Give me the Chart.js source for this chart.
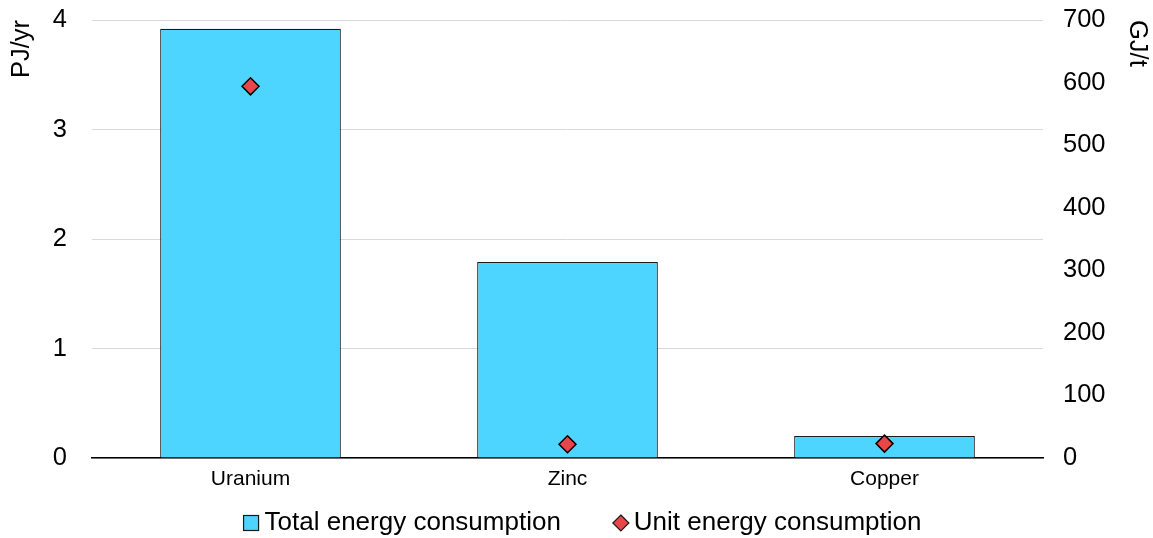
<!DOCTYPE html>
<html>
<head>
<meta charset="utf-8">
<script src="https://cdn.jsdelivr.net/npm/chart.js@4/dist/chart.umd.min.js"></script>
<style>
  html, body { margin: 0; padding: 0; background: #fff; }
  #wrap { width: 1153px; height: 538px; position: relative; }
</style>
</head>
<body>
<div id="wrap"><canvas id="chart"></canvas></div>
<script>
const categories = ['Uranium', 'Zinc', 'Copper'];
const totalEnergy = [3.92, 1.79, 0.20];   // PJ/yr
const unitEnergy = [594, 22, 23];         // GJ/t
const leftTicks = [0, 1, 2, 3, 4];
const rightTicks = [0, 100, 200, 300, 400, 500, 600, 700];

const barFill = '#4DD4FF';
const dotFill = '#E8464A';
const FONT = '"Liberation Sans", Arial, sans-serif';

Chart.defaults.font.family = FONT;
Chart.defaults.color = '#000';

// legend drawn by hand: marker tight to its text, wide gap between entries
const bottomLegend = {
    id: 'bottomLegend',
    afterDraw(chart) {
        const ctx = chart.ctx;
        const items = chart.data.datasets.slice().reverse();
        const markerW = 16, markerGap = 5, itemGap = 52;
        ctx.save();
        ctx.font = '26px ' + FONT;
        ctx.textBaseline = 'middle';
        ctx.fillStyle = '#000';
        const widths = items.map(ds => ctx.measureText(ds.label).width);
        const total = widths.reduce((a, w) => a + markerW + markerGap + w, 0) + itemGap * (items.length - 1);
        let x = chart.width / 2 + 6 - total / 2;
        const y = chart.height - 15;
        items.forEach((ds, i) => {
            ctx.lineWidth = 1.2;
            ctx.strokeStyle = '#1a1a1a';
            if (ds.type === 'bar') {
                ctx.fillStyle = barFill;
                ctx.fillRect(x, y - 7.5, 15, 15);
                ctx.strokeRect(x, y - 7.5, 15, 15);
            } else {
                ctx.fillStyle = dotFill;
                ctx.beginPath();
                ctx.moveTo(x + 8, y - 8); ctx.lineTo(x + 16, y);
                ctx.lineTo(x + 8, y + 8); ctx.lineTo(x, y);
                ctx.closePath();
                ctx.fill(); ctx.stroke();
            }
            ctx.fillStyle = '#000';
            ctx.fillText(ds.label, x + markerW + markerGap, y);
            x += markerW + markerGap + widths[i] + itemGap;
        });
        ctx.restore();
    }
};

new Chart(document.getElementById('chart'), {
    data: {
        labels: categories,
        datasets: [{
            type: 'line',
            label: 'Unit energy consumption',
            data: unitEnergy,
            yAxisID: 'y2',
            showLine: false,
            pointStyle: 'rectRot',
            pointRadius: 8.5,
            pointHoverRadius: 8.5,
            pointBackgroundColor: dotFill,
            pointBorderColor: '#000',
            pointBorderWidth: 1.5,
            order: 0
        }, {
            type: 'bar',
            label: 'Total energy consumption',
            data: totalEnergy,
            yAxisID: 'y',
            backgroundColor: barFill,
            borderColor: '#1a1a1a',
            borderWidth: 1.2,
            categoryPercentage: 0.57,
            barPercentage: 1,
            order: 1
        }]
    },
    options: {
        responsive: true,
        maintainAspectRatio: false,
        animation: false,
        layout: { padding: 0 },
        scales: {
            x: {
                grid: { display: false, drawTicks: false },
                border: { display: true, color: '#000', width: 1.5 },
                ticks: { font: { size: 21 }, padding: 9 },
                afterFit: (scale) => { scale.height = 80; }
            },
            y: {
                position: 'left',
                min: 0,
                max: 4,
                afterBuildTicks: (scale) => { scale.ticks = leftTicks.map(v => ({ value: v })); },
                grid: { color: '#d9d9d9', lineWidth: 1, drawTicks: false },
                border: { display: false },
                ticks: { font: { size: 25.5 }, padding: 25 },
                title: { display: true, text: 'PJ/yr', align: 'end', font: { size: 25.5 }, padding: { top: 7 } },
                afterFit: (scale) => { scale.width = 92; scale.paddingTop = 20; scale.paddingBottom = 0; }
            },
            y2: {
                position: 'right',
                min: 0,
                max: 700,
                afterBuildTicks: (scale) => { scale.ticks = rightTicks.map(v => ({ value: v })); },
                grid: { display: false, drawTicks: false },
                border: { display: false },
                ticks: { font: { size: 25.5 }, padding: 20 },
                title: { display: true, text: 'GJ/t', align: 'end', font: { size: 25.5 }, padding: { top: 1 } },
                afterFit: (scale) => { scale.width = 110; scale.paddingTop = 20; scale.paddingBottom = 0; }
            }
        },
        plugins: {
            legend: { display: false },
            tooltip: { enabled: false }
        }
    },
    plugins: [bottomLegend]
});
</script>
</body>
</html>
